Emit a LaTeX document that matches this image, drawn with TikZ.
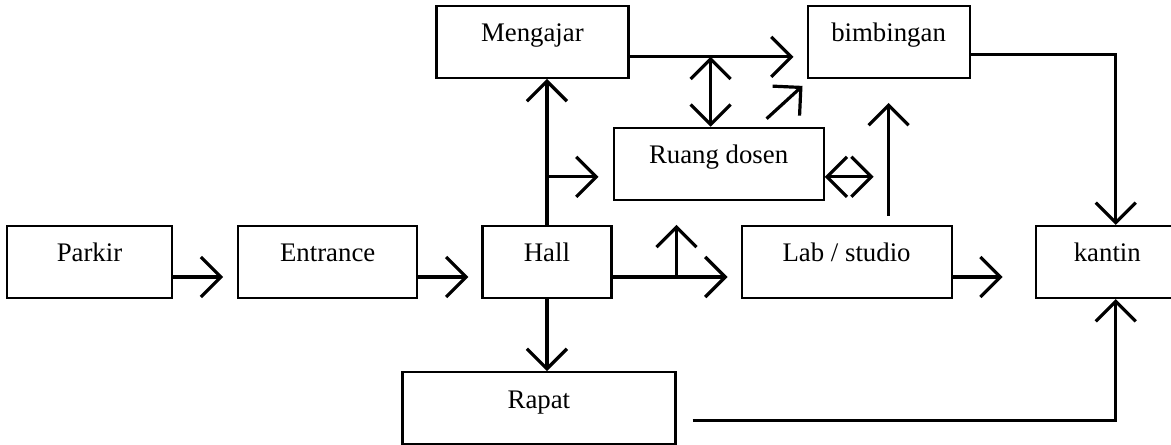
\documentclass[tikz,border=0pt]{standalone}
\usepackage{fontspec}
\setmainfont{Liberation Serif}
\usetikzlibrary{positioning,arrows.meta}
\tikzset{kotak/.style={draw,line width=1.1pt,minimum height=36pt,text height=9pt,text depth=9pt,inner sep=0pt,font=\fontsize{13.4pt}{16pt}\selectfont},
panah/.style={line width=1.6pt},
celah/.style={shorten >=#1}
}

\begin{document}
\begin{tikzpicture}[>={Straight Barb[length=10pt,width=20pt]}]
  \useasboundingbox (-44.75pt,-91pt) rectangle (540.75pt,131pt);

  % Main row
    \node[kotak, minimum width=82.5pt] (parkir) {Parkir};
    \node[kotak, minimum width=89.5pt, right = 32pt of parkir] (entrance) {Entrance};
    \node[kotak, minimum width=64.5pt, right = 31.5pt of entrance] (hall) {Hall};
    \node[kotak, minimum width=105pt, right = 64pt of hall] (lab) {Lab / studio};
    \node[kotak, minimum width=71.5pt, right = 41pt of lab] (kantin) {kantin};

    % Upper rooms
    \node[kotak, minimum width=96pt, above = 73pt of hall, xshift=-7.25pt] (mengajar) {Mengajar};
    \node[kotak, minimum width=81pt, right = 88.5pt of mengajar] (bimbingan) {bimbingan};
    \node[kotak, minimum width=105pt, above right = 12pt and 0pt of hall] (ruang) {Ruang dosen};

    % Lower room
    \node[kotak, minimum width=136.5pt, below = 36pt of hall, xshift=-4pt] (rapat) {Rapat};

    % Row connections
    \draw[panah,->,celah=7pt] ([yshift=-7.5pt]parkir.east) -- ([yshift=-7.5pt]entrance.west);
    \draw[panah,->,celah=6.5pt] ([yshift=-7.5pt]entrance.east) -- ([yshift=-7.5pt]hall.west);
    \draw[panah,->,celah=6.5pt] ([yshift=-7.5pt]hall.east) -- coordinate[pos=0.5] (cabang) ([yshift=-7.5pt]lab.west);
    \draw[panah,->] (cabang) -- (cabang |- hall.north);
    \draw[panah,->,celah=16pt] ([yshift=-7.5pt]lab.east) -- ([yshift=-7.5pt]kantin.west);

    % Hall to upper and lower rooms
    \draw[panah,->] (hall.north) -- (hall.north |- mengajar.south);
    \draw[panah,->,celah=7pt] ([yshift=-6.5pt]ruang.west -| hall.north) -- ([yshift=-6.5pt]ruang.west);
    \draw[panah,->] (hall.south) -- (hall.south |- rapat.north);

    % Mengajar, Ruang dosen, bimbingan
    \coordinate (garis) at ([yshift=-7.5pt]mengajar.east);
    \draw[panah,->,celah=6.5pt] (garis) -- (garis -| bimbingan.west);
    \draw[panah,<->] ([xshift=-4pt]ruang.north |- garis) -- ([xshift=-4pt]ruang.north);
    \draw[panah,->] ([shift={(24pt,4pt)}]ruang.north) -- ([shift={(-2pt,-3.5pt)}]bimbingan.south west);
    \draw[panah,<->,celah=7.5pt] ([yshift=-6.5pt]ruang.east) -- ([yshift=-6.5pt]ruang.east -| bimbingan.south);
    \draw[panah,->,shorten <=4.5pt,celah=12pt] (bimbingan.south |- lab.north) -- (bimbingan.south);

    % To kantin
    \draw[panah,->] ([yshift=-6.5pt]bimbingan.east) -| ([xshift=4.25pt]kantin.north);
    \draw[panah,->] ([shift={(8pt,-6.25pt)}]rapat.east) -| ([xshift=4.25pt]kantin.south);

  \end{tikzpicture}
\end{document}
